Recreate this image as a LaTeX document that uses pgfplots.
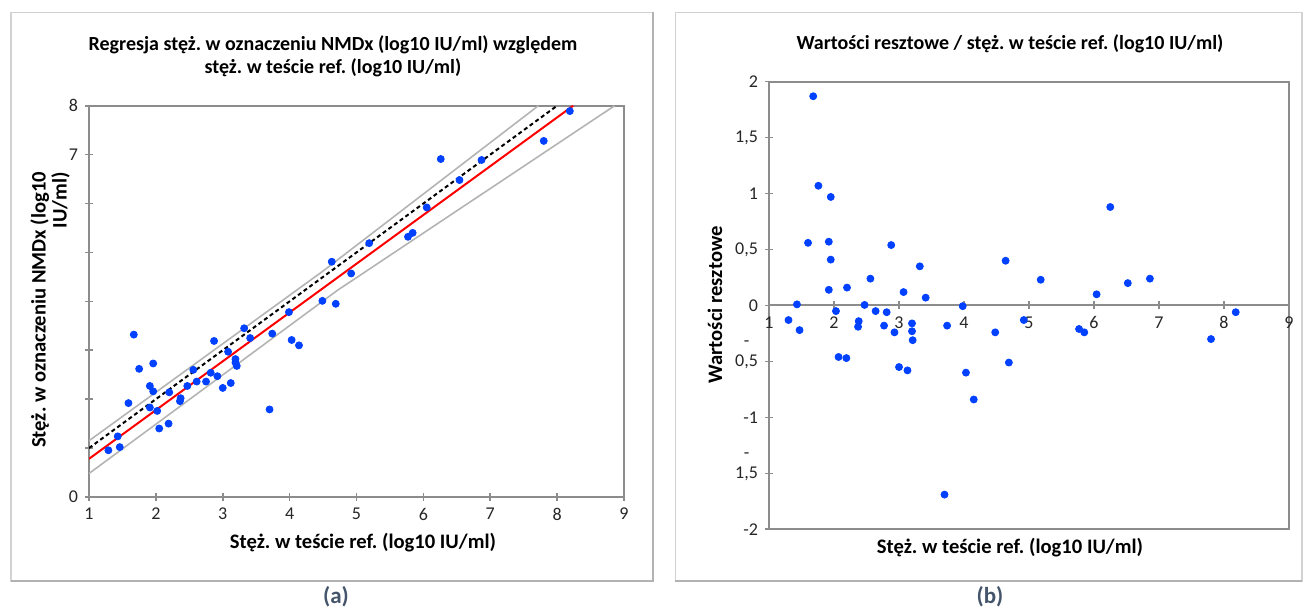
\documentclass[border=0pt]{standalone}
\usepackage{fontspec}
\setmainfont{Carlito}
\usepackage{pgfplots}
\pgfplotsset{compat=1.18}
\frenchspacing

\definecolor{dotblue}{HTML}{0040FF}
\definecolor{axgray}{HTML}{8C8C8C}
\definecolor{bandgray}{HTML}{B4B4B4}
\definecolor{capcol}{HTML}{44546A}

\newcommand\neglbl[1]{\raisebox{-0.6ex}[0pt][0pt]{\begin{tabular}[b]{@{}c@{}}-\\#1\end{tabular}}}

\pgfplotsset{
  panel/.style={
    scale only axis, anchor=south west,
    axis line style={axgray, line width=1pt},
    tick style={axgray, line width=0.8pt},
    major tick length=4pt, tick align=center,
    tick label style={font=\fontsize{9}{10.2}\selectfont, text=black!85},
    /pgf/number format/assume math mode=true,
  },
  dots/.style={only marks, mark=*, mark size=1.75pt, color=dotblue,
    mark options={draw=dotblue, fill=dotblue}},
}

\pgfplotstableread{
x y
1.29 0.955
1.43 1.24
1.46 1.02
1.59 1.92
1.67 3.32
1.75 2.62
1.91 2.27
1.91 1.83
1.96 2.16
1.96 2.73
2.02 1.76
2.05 1.40
2.19 1.50
2.20 2.14
2.36 1.96
2.37 2.02
2.47 2.27
2.56 2.60
2.61 2.36
2.75 2.36
2.82 2.54
2.87 3.19
2.92 2.47
3.00 2.23
3.08 2.97
3.12 2.33
3.19 2.82
3.19 2.75
3.21 2.68
3.32 3.45
3.41 3.25
3.70 1.79
3.74 3.34
3.99 3.78
4.03 3.21
4.14 3.10
4.49 4.01
4.69 3.95
4.63 4.81
4.92 4.57
5.19 5.19
5.77 5.32
5.84 5.40
6.05 5.92
6.26 6.91
6.54 6.48
6.87 6.89
7.80 7.28
8.19 7.89
}\regdata

\pgfplotstableread{
x y
1.68 1.87
1.76 1.07
1.95 0.97
1.60 0.56
1.92 0.57
1.95 0.41
1.92 0.14
1.43 0.01
2.20 0.16
2.56 0.24
2.88 0.54
3.07 0.12
3.32 0.35
3.41 0.07
2.47 0.005
3.98 -0.006
4.64 0.40
5.18 0.23
6.25 0.88
6.52 0.20
6.86 0.24
6.04 0.10
8.18 -0.06
4.92 -0.13
1.30 -0.13
1.47 -0.22
2.03 -0.05
2.07 -0.46
2.19 -0.47
2.38 -0.14
2.37 -0.19
2.64 -0.05
2.81 -0.06
2.77 -0.18
2.93 -0.24
3.00 -0.55
3.13 -0.58
3.20 -0.16
3.20 -0.23
3.21 -0.31
3.74 -0.18
3.70 -1.69
4.03 -0.60
4.15 -0.84
4.48 -0.24
4.69 -0.51
5.77 -0.21
5.85 -0.24
7.80 -0.30
}\resdata

\begin{document}
\begin{tikzpicture}
\useasboundingbox (0,0) rectangle (652pt,304.5pt);

% panel frames
\draw[gray!35, line width=0.6pt] (5.5pt,14pt) rectangle (326.5pt,298.35pt);
\draw[gray!60, line width=0.9pt] (5.5pt,14pt) -- (326.5pt,14pt) -- (326.5pt,298.35pt);
\draw[gray!35, line width=0.6pt] (337.65pt,14pt) rectangle (651pt,298.35pt);
\draw[gray!60, line width=0.9pt] (337.65pt,14pt) -- (651pt,14pt);

% (a) regression
\begin{axis}[panel, at={(44.5pt,56pt)}, width=267.5pt, height=195.65pt,
  xmin=1, xmax=9, ymin=0, ymax=8,
  xtick={1,...,9}, ytick={0,...,8},
  yticklabels={0,{},{},{},{},{},{},7,8},
  tick pos=left,
]
  \addplot[bandgray, line width=0.8pt] coordinates {(1,0.48) (4.72,4.23) (8.86,8)};
  \addplot[bandgray, line width=0.8pt] coordinates {(1,1.15) (4.5,4.62) (7.72,8)};
  \addplot[black, line width=1pt, dash pattern=on 2pt off 1.5pt] coordinates {(1,1) (8,8)};
  \addplot[red, line width=1pt] coordinates {(1,0.78) (8.24,8)};
  \addplot[dots] table[x=x, y=y] {\regdata};
\end{axis}

% (b) residuals: frame and y axis
\begin{axis}[panel, at={(384.5pt,39.85pt)}, width=260pt, height=223.8pt,
  xmin=1, xmax=9, ymin=-2, ymax=2,
  xtick=\empty, ytick={-2,-1.5,...,2}, ytick pos=left,
  yticklabels={{-2},{\neglbl{1,5}},{-1},{\neglbl{0,5}},{0},{0,5},{1},{1,5},{2}},
]
\end{axis}
% (b) residuals: zero line and points
\begin{axis}[panel, at={(384.5pt,39.85pt)}, width=260pt, height=223.8pt,
  xmin=1, xmax=9, ymin=-2, ymax=2,
  axis x line*=middle, axis y line=none,
  x axis line style={-, axgray, line width=1pt},
  xtick={1,...,9}, ytick=\empty,
]
  \addplot[dots] table[x=x, y=y] {\resdata};
\end{axis}

% titles and labels
\node[font=\bfseries\fontsize{10}{11.5}\selectfont, align=center] at (166.5pt,276.25pt)
  {Regresja stęż. w oznaczeniu NMDx (log10 IU/ml) względem\\stęż. w teście ref. (log10 IU/ml)};
\node[font=\bfseries\fontsize{10.3}{11}\selectfont] at (181.5pt,33pt) {Stęż. w teście ref. (log10 IU/ml)};
\node[font=\bfseries\fontsize{10.3}{10.5}\selectfont, rotate=90, align=right] at (25pt,149.5pt)
  {Stęż. w oznaczeniu NMDx (log10\\IU/ml)};

\node[font=\bfseries\fontsize{10}{11.5}\selectfont] at (505pt,282.5pt)
  {Wartości resztowe / stęż. w teście ref. (log10 IU/ml)};
\node[font=\bfseries\fontsize{10.3}{11}\selectfont] at (505pt,30.5pt) {Stęż. w teście ref. (log10 IU/ml)};
\node[font=\bfseries\fontsize{10.3}{11}\selectfont, rotate=90] at (357.5pt,152pt) {Wartości resztowe};

\node[font=\bfseries\fontsize{11.5}{13}\selectfont, text=capcol] at (168pt,6pt) {(a)};
\node[font=\bfseries\fontsize{11.5}{13}\selectfont, text=capcol] at (495pt,6pt) {(b)};
\end{tikzpicture}
\end{document}
